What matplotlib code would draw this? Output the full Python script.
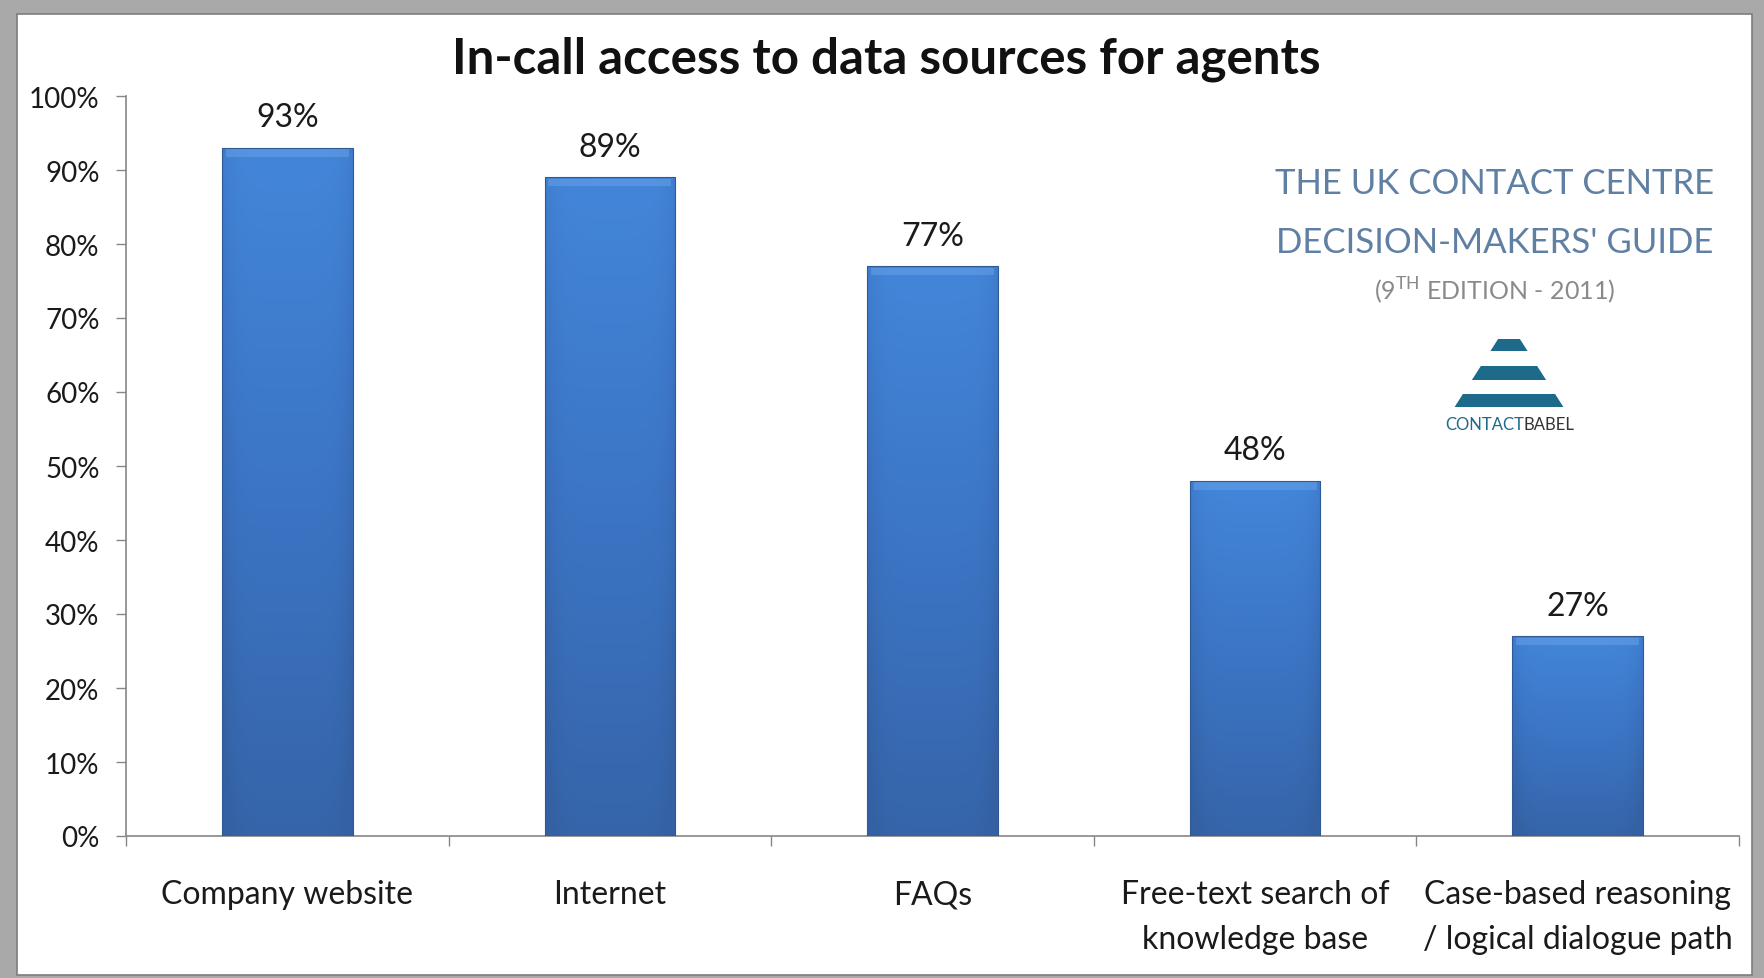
import numpy as np
import matplotlib
matplotlib.use("Agg")
import matplotlib.pyplot as plt
from matplotlib.patches import Rectangle, Polygon
from matplotlib.colors import LinearSegmentedColormap

plt.rcParams['font.family'] = ['Lato', 'DejaVu Sans']
plt.rcParams['mathtext.fontset'] = 'custom'
plt.rcParams['mathtext.rm'] = 'Lato'

# data
categories = ["Company website", "Internet", "FAQs",
              "Free-text search of\nknowledge base",
              "Case-based reasoning\n/ logical dialogue path"]
values = [0.93, 0.89, 0.77, 0.48, 0.27]
yticks = np.arange(0, 1.01, 0.1)
title = "In-call access to data sources for agents"

W, H = 1765, 979
fig = plt.figure(figsize=(W / 100, H / 100), dpi=100)
fig.patch.set_facecolor("#a9a9a9")

# white page with grey shadow border
fig.patches.append(Rectangle((17 / W, 1 - 976 / H), (1752 - 17) / W, (976 - 15) / H,
                             transform=fig.transFigure, facecolor="white",
                             edgecolor="#7d7d7d", linewidth=1.2, zorder=-5))

ax = fig.add_axes([126 / W, 1 - 837 / H, (1739 - 126) / W, (837 - 97) / H])
ax.set_facecolor("none")
ax.set_zorder(2)

x = np.arange(len(categories))
bars = ax.bar(x, values, width=0.405, color="#3d78c8", zorder=2)

# gradient fill for the bars
cmap = LinearSegmentedColormap.from_list("bar", ["#3461a3", "#3b73c2", "#4386d9"])
for b in bars:
    x0, y0 = b.get_x(), b.get_y()
    w, h = b.get_width(), b.get_height()
    vert = np.linspace(0, 1, 200)[:, None]
    horiz = np.linspace(-1, 1, 60)[None, :]
    grad = vert * 0.9 + 0.1 - 0.25 * np.abs(horiz) ** 6
    im = ax.imshow(grad, extent=[x0, x0 + w, y0, y0 + h], origin="lower",
                   cmap=cmap, vmin=0, vmax=1, aspect="auto", zorder=3)
    im.set_clip_path(b)
    # soft light bevel at the top
    ax.add_patch(Rectangle((x0 + w * 0.03, y0 + h - 0.012), w * 0.94, 0.010,
                           facecolor="#6fa6ea", edgecolor="none", alpha=0.45, zorder=4))
    ax.add_patch(Rectangle((x0, y0), w, h, facecolor="none",
                           edgecolor="#2f5a96", linewidth=0.8, zorder=5))

for xi, v in zip(x, values):
    ax.annotate(f"{v:.0%}", (xi, v), xytext=(0, 22), textcoords="offset points",
                ha="center", va="center", fontsize=23, color="#1a1a1a")

ax.set_xlim(-0.5, len(categories) - 0.5)
ax.set_ylim(0, 1)
ax.set_yticks(yticks)
ax.set_yticklabels([f"{t:.0%}" for t in yticks], fontsize=20, color="#1a1a1a")
ax.set_xticks(x)
ax.set_xticklabels(categories, fontsize=23, color="#1a1a1a", linespacing=1.62)
ax.set_xticks(np.arange(-0.5, len(categories)), minor=True)
ax.tick_params(axis="x", which="major", length=0, pad=31)
ax.tick_params(axis="x", which="minor", length=7, width=1, color="#868686", direction="out")
ax.tick_params(axis="y", length=7, width=1, color="#868686", direction="out", pad=12)

for s in ["top", "right"]:
    ax.spines[s].set_visible(False)
for s in ["left", "bottom"]:
    ax.spines[s].set_color("#868686")
    ax.spines[s].set_linewidth(1.2)

fig.text(886 / W, 1 - 59 / H, title, ha="center", va="center",
         fontsize=35.5, fontweight="bold", color="#111111")

# watermark
fig.text(1495 / W, 1 - 184 / H, "THE UK CONTACT CENTRE", ha="center", va="center",
         fontsize=25, color="#5f7fa3")
fig.text(1495 / W, 1 - 243 / H, "DECISION-MAKERS' GUIDE", ha="center", va="center",
         fontsize=25, color="#5f7fa3")
fig.text(1495 / W, 1 - 291 / H, r"(9$^{\mathrm{TH}}$ EDITION - 2011)", ha="center",
         va="center", fontsize=18, color="#8a8a8a")

# ContactBabel logo
cx, apex = 1509, 323
slope = 0.64
for top, bot in [(340, 352), (367, 381), (395, 408)]:
    pts = [(cx - (top - apex) * slope, top), (cx + (top - apex) * slope, top),
           (cx + (bot - apex) * slope, bot), (cx - (bot - apex) * slope, bot)]
    fig.patches.append(Polygon([(px / W, 1 - py / H) for px, py in pts], closed=True,
                               transform=fig.transFigure, facecolor="#1d6a8a",
                               edgecolor="none", zorder=3))
fig.text(1524 / W, 1 - 425 / H, "CONTACT", ha="right", va="center",
         fontsize=12, color="#1d6a8a")
fig.text(1524 / W, 1 - 425 / H, "BABEL", ha="left", va="center",
         fontsize=12, color="#333333")

fig.savefig("out.png", dpi=100)
